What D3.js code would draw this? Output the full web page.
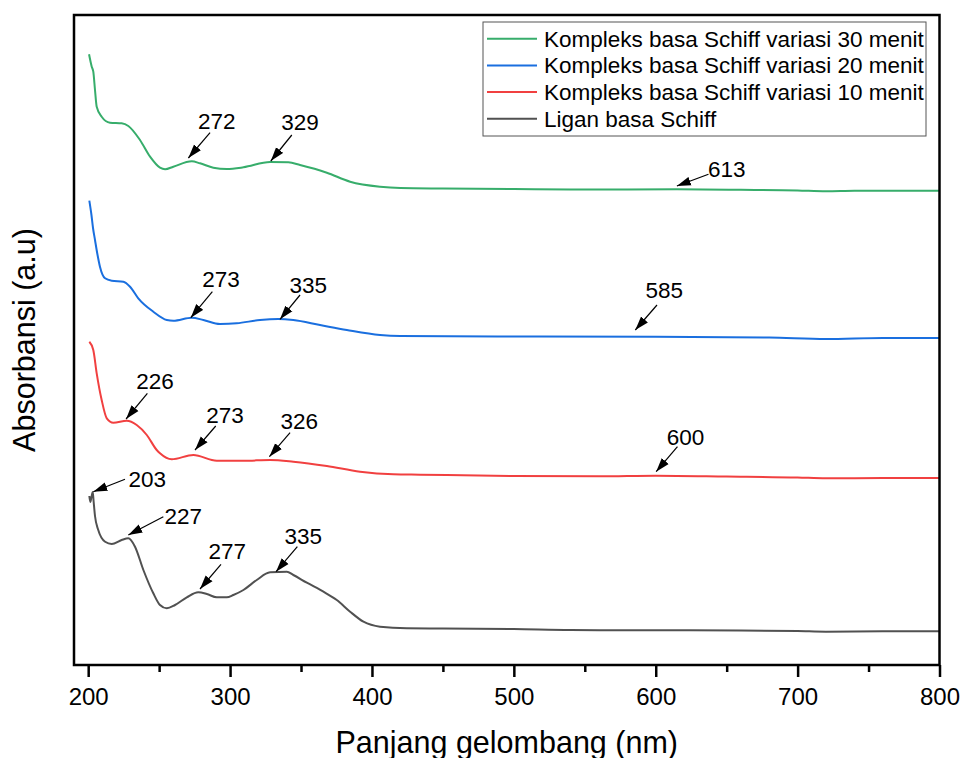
<!DOCTYPE html>
<html>
<head>
<meta charset="utf-8">
<script src="https://cdnjs.cloudflare.com/ajax/libs/d3/7.8.5/d3.min.js"></script>
<style>
  body { margin: 0; background: #fff; }
  text { font-family: Arial, "Liberation Sans", sans-serif; fill: #000; }
</style>
</head>
<body>
<div id="chart"></div>
<script>
// ---- data ----
var seriesNames = ['Kompleks basa Schiff variasi 30 menit', 'Kompleks basa Schiff variasi 20 menit',
                   'Kompleks basa Schiff variasi 10 menit', 'Ligan basa Schiff'];

var wl30 = [200.6, 202.5, 203.6, 204.8, 206, 209.5, 215.4, 223.6, 228.3, 236.5, 243.6, 250.6, 254.2, 260, 273, 278.8,
            288.2, 297.7, 309.4, 328.2, 341.1, 349.3, 368.2, 384.6, 405.7, 420, 450, 500, 540, 580, 615, 660, 700, 720, 740, 780, 800];
var abs30 = [6.107, 5.983, 5.933, 5.75, 5.583, 5.483, 5.423, 5.417, 5.39, 5.25, 5.083, 4.973, 4.957, 4.983, 5.037, 5.017,
             4.973, 4.96, 4.977, 5.03, 5.027, 5.0, 4.923, 4.833, 4.783, 4.77, 4.765, 4.76, 4.755, 4.755, 4.757, 4.752, 4.745, 4.737, 4.742, 4.743, 4.743];

var wl20 = [200.8, 202.3, 203.4, 204.8, 206.6, 208.3, 211.9, 216.6, 224.8, 229.5, 235.3, 245.9, 255.4, 260, 273, 281.2,
            292.9, 304.7, 321.1, 334, 344.6, 363.4, 382.3, 405.7, 420, 500, 600, 680, 720, 760, 800];
var abs20 = [4.643, 4.5, 4.37, 4.25, 4.1, 3.983, 3.867, 3.843, 3.833, 3.783, 3.667, 3.533, 3.45, 3.443, 3.473, 3.45,
             3.41, 3.417, 3.45, 3.46, 3.45, 3.4, 3.35, 3.3, 3.29, 3.285, 3.283, 3.275, 3.26, 3.27, 3.27];

var wl10 = [200.8, 203.6, 206, 209.5, 213.1, 217.7, 227.2, 234.2, 241.3, 248.3, 250.6, 258.9, 274.1, 290.6, 309.4,
            328.2, 344.6, 368.2, 391.6, 415.1, 433.9, 500, 560, 600, 650, 700, 720, 760, 800];
var abs10 = [3.233, 3.15, 2.917, 2.65, 2.467, 2.423, 2.443, 2.4, 2.3, 2.15, 2.117, 2.057, 2.1, 2.043, 2.043,
             2.05, 2.033, 1.99, 1.933, 1.907, 1.903, 1.89, 1.887, 1.893, 1.885, 1.875, 1.867, 1.87, 1.87];

var wlLig = [200.8, 201.5, 202.3, 203.2, 203.8, 204.8, 207.1, 211.9, 216.6, 223.6, 228.3, 233, 238.9, 245.9, 250.6, 255.4,
             261.2, 269.5, 277.6, 283.6, 290.6, 297.7, 302.3, 309.4, 318.8, 328.2, 340, 344.6, 354.1, 365.8, 375.2, 384.6,
             394, 405.7, 424.6, 450, 500, 540, 600, 660, 700, 720, 760, 800];
var absLig = [1.69, 1.63, 1.68, 1.73, 1.64, 1.49, 1.35, 1.233, 1.21, 1.25, 1.267, 1.183, 0.95, 0.717, 0.6, 0.567,
              0.6, 0.677, 0.727, 0.71, 0.677, 0.677, 0.7, 0.75, 0.85, 0.927, 0.933, 0.9, 0.823, 0.733, 0.65, 0.533,
              0.433, 0.383, 0.367, 0.365, 0.36, 0.35, 0.347, 0.345, 0.34, 0.333, 0.337, 0.337];

var xTicks = [200, 300, 400, 500, 600, 700, 800];
var xMinor = [250, 350, 450, 550, 650, 750];

// peak labels: series index, label, arrow tip (nm, abs)
var peakSeries = [0, 0, 0, 1, 1, 1, 2, 2, 2, 2, 3, 3, 3, 3];
var peakLabels = ['272', '329', '613', '273', '335', '585', '226', '273', '326', '600', '203', '227', '277', '335'];
var peakWl = [270.6, 328.7, 614.9, 272.3, 335.2, 585.6, 226.7, 275.3, 327.7, 600.3, 203.6, 228.3, 278.8, 332.4];
var peakAbs = [5.07, 5.04, 4.79, 3.473, 3.457, 3.35, 2.46, 2.15, 2.083, 1.933, 1.733, 1.30, 0.76, 0.933];

// ---- layout ----
var W = 962, H = 758;
var margin = {left: 74, right: 939.5, top: 15, bottom: 665};
var colors = ['#37AD6B', '#1A6FDF', '#F14040', '#515151'];

var xScale = d3.scaleLinear().domain([190, 800]).range([margin.left, margin.right]);
var yScale = d3.scaleLinear().domain([0, 6.5]).range([margin.bottom, margin.top]);

var svg = d3.select('#chart').append('svg')
    .attr('width', W)
    .attr('height', H);

svg.append('defs').append('marker')
    .attr('id', 'arrow')
    .attr('markerUnits', 'userSpaceOnUse')
    .attr('viewBox', '0 -5 14 10')
    .attr('refX', 14).attr('refY', 0)
    .attr('markerWidth', 14).attr('markerHeight', 10)
    .attr('orient', 'auto')
    .append('path')
    .attr('d', 'M0,-4.5L14,0L0,4.5Z')
    .attr('fill', '#000');

var series = [
    {wl: wl30, abs: abs30},
    {wl: wl20, abs: abs20},
    {wl: wl10, abs: abs10},
    {wl: wlLig, abs: absLig}
];

var line = d3.line()
    .x(function(d) { return xScale(d[0]); })
    .y(function(d) { return yScale(d[1]); })
    .curve(d3.curveMonotoneX);

series.forEach(function(s, i) {
    var pts = s.wl.map(function(w, j) { return [w, s.abs[j]]; });
    svg.append('path')
        .datum(pts)
        .attr('fill', 'none')
        .attr('stroke', colors[i])
        .attr('stroke-width', 2)
        .attr('stroke-linejoin', 'round')
        .attr('d', line);
});

// arrows + labels
// offsets of arrow tail and text from the tip, in px
var tailOff = [[21.7,-25.3],[21,-26],[31.6,-11.7],[21.6,-26],[20,-24.3],[21.7,-25],[21.3,-25.7],[20.7,-24],[20.7,-24],[21.3,-25],[31.7,-12.4],[35,-18.3],[21,-24.7],[21.3,-25]];
var textOff = [[28.4,-28.7],[29.3,-31],[50,-8.7],[30.3,-31],[28.3,-26.6],[29,-31.7],[29,-29.7],[30,-27.3],[30,-27.7],[29.3,-26.7],[54,-4.4],[55,-10.7],[27.3,-29.7],[27.3,-27.4]];

peakLabels.forEach(function(lab, i) {
    var tx = xScale(peakWl[i]), ty = yScale(peakAbs[i]);
    svg.append('line')
        .attr('x1', tx + tailOff[i][0]).attr('y1', ty + tailOff[i][1])
        .attr('x2', tx).attr('y2', ty)
        .attr('stroke', '#000')
        .attr('stroke-width', 1.2)
        .attr('marker-end', 'url(#arrow)');
    svg.append('text')
        .attr('x', tx + textOff[i][0])
        .attr('y', ty + textOff[i][1])
        .attr('text-anchor', 'middle')
        .style('font-size', '22.5px')
        .text(lab);
});

// frame
svg.append('rect')
    .attr('x', margin.left).attr('y', margin.top)
    .attr('width', margin.right - margin.left).attr('height', margin.bottom - margin.top)
    .attr('fill', 'none')
    .attr('stroke', '#000')
    .attr('stroke-width', 2.5);

// x axis
var xAxis = d3.axisBottom(xScale)
    .tickValues(xTicks)
    .tickSize(12)
    .tickPadding(11)
    .tickSizeOuter(0);
var xg = svg.append('g')
    .attr('transform', 'translate(0,' + margin.bottom + ')')
    .call(xAxis);
xg.select('.domain').remove();
xg.selectAll('line').attr('stroke', '#000').attr('stroke-width', 2.5);
xg.selectAll('text').style('font-size', '24px').attr('fill', '#000');

var xMinorAxis = d3.axisBottom(xScale)
    .tickValues(xMinor)
    .tickSize(7)
    .tickFormat('')
    .tickSizeOuter(0);
var xm = svg.append('g')
    .attr('transform', 'translate(0,' + margin.bottom + ')')
    .call(xMinorAxis);
xm.select('.domain').remove();
xm.selectAll('line').attr('stroke', '#000').attr('stroke-width', 2.5);

// axis titles
svg.append('text')
    .attr('x', (margin.left + margin.right) / 2)
    .attr('y', 753)
    .attr('text-anchor', 'middle')
    .style('font-size', '30.5px')
    .text('Panjang gelombang (nm)');

svg.append('text')
    .attr('transform', 'translate(35,340) rotate(-90)')
    .attr('text-anchor', 'middle')
    .style('font-size', '30.5px')
    .text('Absorbansi (a.u)');

// legend
var lg = svg.append('g');
lg.append('rect')
    .attr('x', 483).attr('y', 22)
    .attr('width', 443).attr('height', 114)
    .attr('fill', '#fff')
    .attr('stroke', '#555')
    .attr('stroke-width', 1);
seriesNames.forEach(function(name, i) {
    var yb = 46.7 + i * 26.7;
    lg.append('line')
        .attr('x1', 487).attr('x2', 537)
        .attr('y1', yb - 8).attr('y2', yb - 8)
        .attr('stroke', colors[i])
        .attr('stroke-width', 2);
    lg.append('text')
        .attr('x', 544).attr('y', yb)
        .style('font-size', '22.5px')
        .text(name);
});
</script>
</body>
</html>
